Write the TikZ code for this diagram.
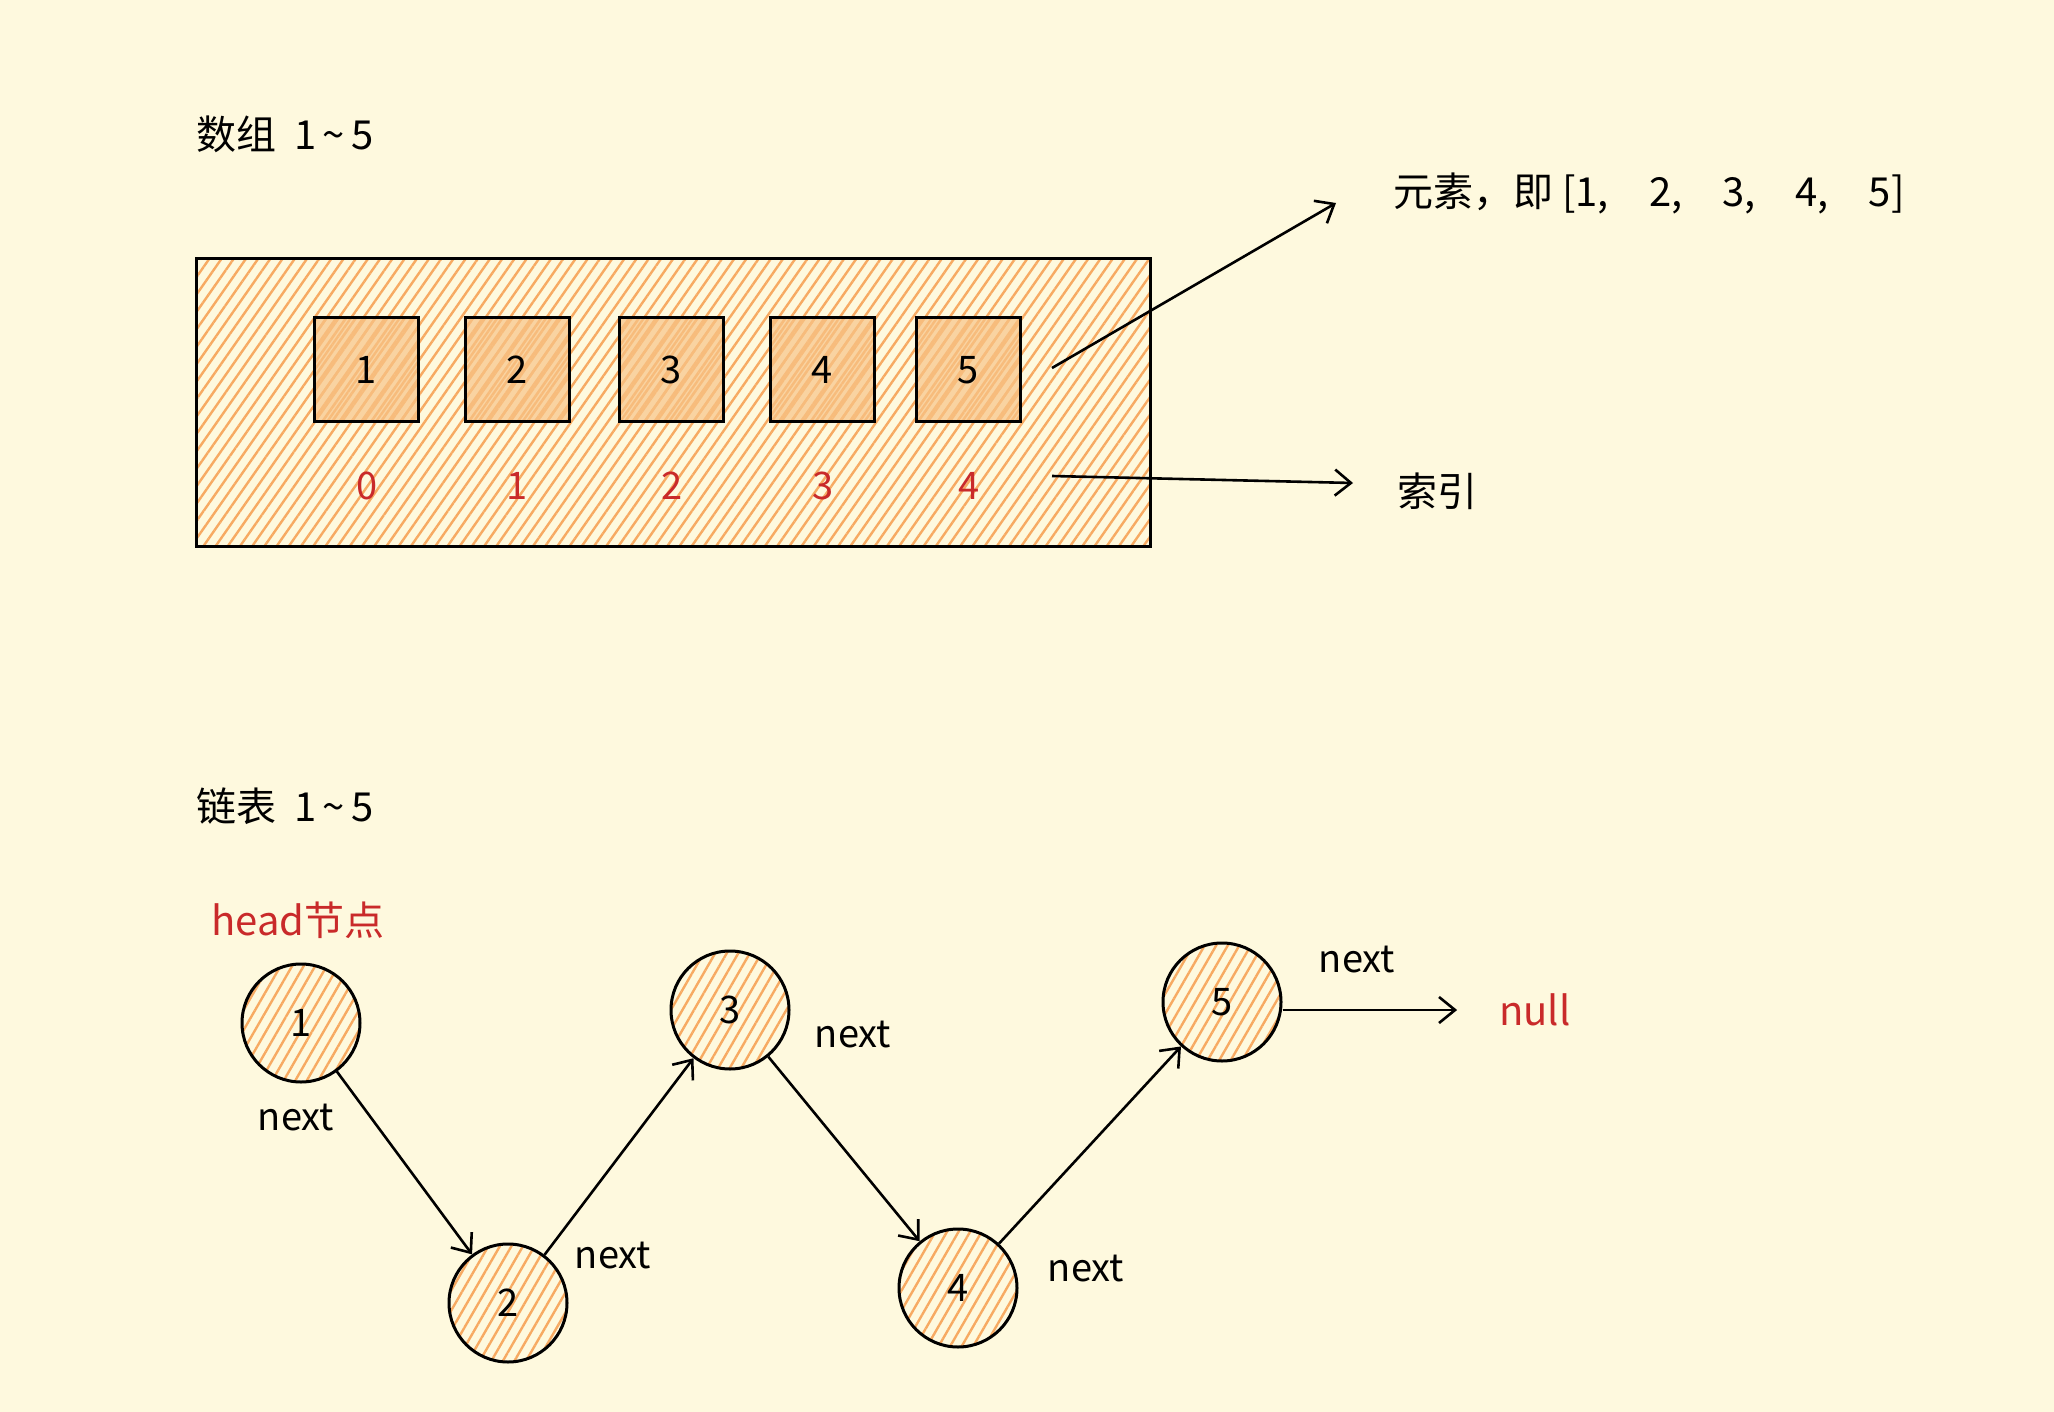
\documentclass[tikz,border=0pt]{standalone}
\usepackage{fontspec}
\setmainfont{Noto Sans CJK SC}
\usetikzlibrary{patterns.meta,arrows.meta}
\definecolor{bgc}{RGB}{254,249,222}
\definecolor{hatch}{RGB}{247,170,98}
\definecolor{cellfill}{RGB}{248,196,136}
\definecolor{redtxt}{RGB}{201,42,42}
\tikzset{
  hatchfill/.style={pattern={Lines[angle=55,distance=10pt,line width=2.4pt]},pattern color=hatch},
  arraybox/.style={draw=black,line width=3pt,hatchfill,minimum width=954pt,minimum height=287pt,inner sep=0pt},
  cellbox/.style={draw=black,line width=3pt,fill=cellfill,minimum width=104pt,minimum height=104pt,inner sep=0pt,font=\fontsize{38}{44}\selectfont},
  cellhatch/.style={pattern={Lines[angle=55,distance=8pt,line width=2.6pt]},pattern color=hatch},
  idx/.style={text=redtxt,font=\fontsize{38}{44}\selectfont,inner sep=0pt},
  listnode/.style={circle,draw=black,line width=3pt,minimum size=118pt,inner sep=0pt,font=\fontsize{38}{44}\selectfont},
  circhatch/.style={pattern={Lines[angle=60,distance=10pt,line width=2.4pt]},pattern color=hatch},
  title/.style={anchor=west,inner sep=0pt,font=\fontsize{40}{46}\selectfont},
  lbl/.style={anchor=west,inner sep=0pt,font=\fontsize{40}{46}\selectfont},
  nxt/.style={inner sep=0pt,font=\fontsize{38}{44}\selectfont},
  redlbl/.style={text=redtxt,inner sep=0pt,font=\fontsize{40}{46}\selectfont},
  arr/.style={draw=black,line width=2.6pt,-{Straight Barb[length=16pt,width=26pt,line width=2.6pt]}}
}
\begin{document}
\begin{tikzpicture}[x=1pt,y=-1pt]
\useasboundingbox (0,0) rectangle (2054,1412);
\fill[bgc] (0,0) rectangle (2054,1412);

% titles
\node[title] (t1) at (196,134) {数组 \ 1\,\textasciitilde\,5};
\node[title] (t2) at (196,806) {链表 \ 1\,\textasciitilde\,5};

% array
\node[arraybox] (arr) at (673,402.5) {};
\foreach \i/\x in {1/366,2/517,3/671,4/822,5/968}{
  \path[cellhatch] (\x-52,370-52) rectangle (\x+52,370+52);
}
\foreach \i/\x in {1/366,2/517,3/671,4/822,5/968}{
  \node[cellbox,fill opacity=0.7,text opacity=1] (b\i) at (\x,370) {\i};
}
\foreach \i/\x in {0/367,1/517,2/672,3/823,4/969}{
  \node[idx] (ix\i) at (\x,486) {\i};
}

\coordinate (e1s) at (1052,368);
\coordinate (e1e) at (1336,203);
\coordinate (e2s) at (1052,476);
\coordinate (e2e) at (1353,483);
\node[lbl] (lab1) at (1393,193) {元素，即 [1,\quad 2,\quad 3,\quad 4,\quad 5]};
\node[lbl] (lab2) at (1397,491) {索引};
\draw[arr] (e1s) -- (e1e);
\draw[arr] (e2s) -- (e2e);

% linked list
\node[redlbl,anchor=west] (head) at (211,920) {head节点};
\node[listnode,circhatch] (c1) at (301,1023) {1};
\node[listnode,circhatch] (c2) at (508,1303) {2};
\node[listnode,circhatch] (c3) at (730,1010) {3};
\node[listnode,circhatch] (c4) at (958,1288) {4};
\node[listnode,circhatch] (c5) at (1222,1002) {5};
\node[redlbl] (null) at (1535,1010) {null};

\draw[arr] (c1) -- (c2);
\draw[arr] (c2) -- (c3);
\draw[arr] (c3) -- (c4);
\draw[arr] (c4) -- (c5);
\draw[arr] (c5.east |- null) -- ([xshift=-42pt]null.west);

\node[nxt] (n1) at (296,1118) {next};
\node[nxt] (n2) at (613,1256) {next};
\node[nxt] (n3) at (853,1035) {next};
\node[nxt] (n4) at (1086,1269) {next};
\node[nxt] (n5) at (1357,960) {next};
\end{tikzpicture}
\end{document}
